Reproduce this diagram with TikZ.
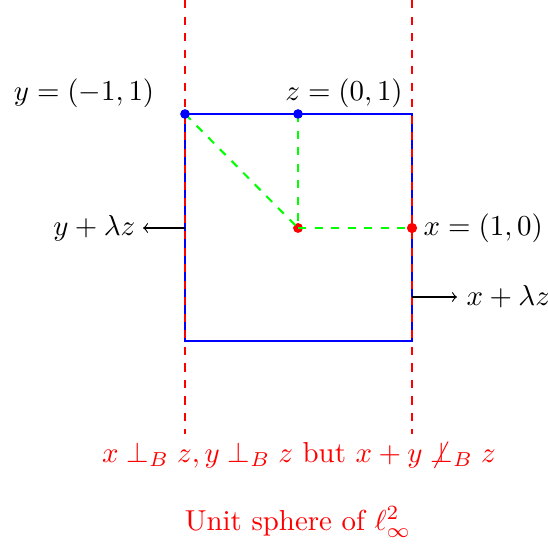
\documentclass[tikz,border=0pt]{standalone}
\usepackage{amsmath,amssymb}
\begin{document}
\begin{tikzpicture}[x=0.012774cm,y=-0.012774cm,
  sq/.style={blue,line width=0.75pt},
  rdash/.style={red,dashed,line width=0.75pt},
  gdash/.style={green,dashed,line width=0.75pt},
  bdot/.style={circle,fill=blue,inner sep=0pt,minimum size=3.4pt},
  rdot/.style={circle,fill=red,inner sep=0pt,minimum size=3.6pt},
  lab/.style={inner sep=0pt,scale=1.05}]
\useasboundingbox (0,0) rectangle (548,548);
% square corners
\coordinate (tl) at (185,114);
\coordinate (tr) at (412,114);
\coordinate (br) at (412,341);
\coordinate (bl) at (185,341);
\coordinate (c) at (298,228);
\draw[sq] (tl) -- (tr) -- (br) -- (bl) -- cycle;
% red dashed verticals
\coordinate (l1) at (185,0);
\coordinate (l2) at (185,434);
\coordinate (r1) at (412,0);
\coordinate (r2) at (412,434);
\draw[rdash] (l1) -- (l2);
\draw[rdash] (r1) -- (r2);
% points
\node[rdot] (o) at (c) {};
\node[rdot] (x) at (412,228) {};
\node[bdot] (y) at (tl) {};
\node[bdot] (z) at (298,114) {};
\draw[gdash] (y.center) -- (o.center);
\draw[gdash] (z.center) -- (o.center);
\draw[gdash] (o.center) -- (x.center);
\node[bdot] at (tl) {};
\node[bdot] at (298,114) {};
\node[rdot] at (412,228) {};
% labels
\node[lab] (ylab) at (84,93) {$y=(-1,1)$};
\node[lab] (zlab) at (344,93) {$z=(0,1)$};
\node[lab,anchor=west] (xlab) at (423,228) {$x=(1,0)$};
% arrows
\coordinate (ya) at (185,228);
\coordinate (yt) at (143,228);
\node[lab,anchor=east] (yl) at (136,228) {$y+\lambda z$};
\draw[-to] (ya) -- (yt);
\coordinate (xa) at (412,297);
\coordinate (xt) at (457,297);
\node[lab,anchor=west] (xl) at (466,297) {$x+\lambda z$};
\draw[-to] (xa) -- (xt);
% bottom texts
\node[lab,red] (t1) at (299,455) {$x\perp_B z, y\perp_B z$ but $x+y\not\perp_B z$};
\node[lab,red] (t2) at (298,522) {Unit sphere of $\ell^2_\infty$};
\end{tikzpicture}
\end{document}
